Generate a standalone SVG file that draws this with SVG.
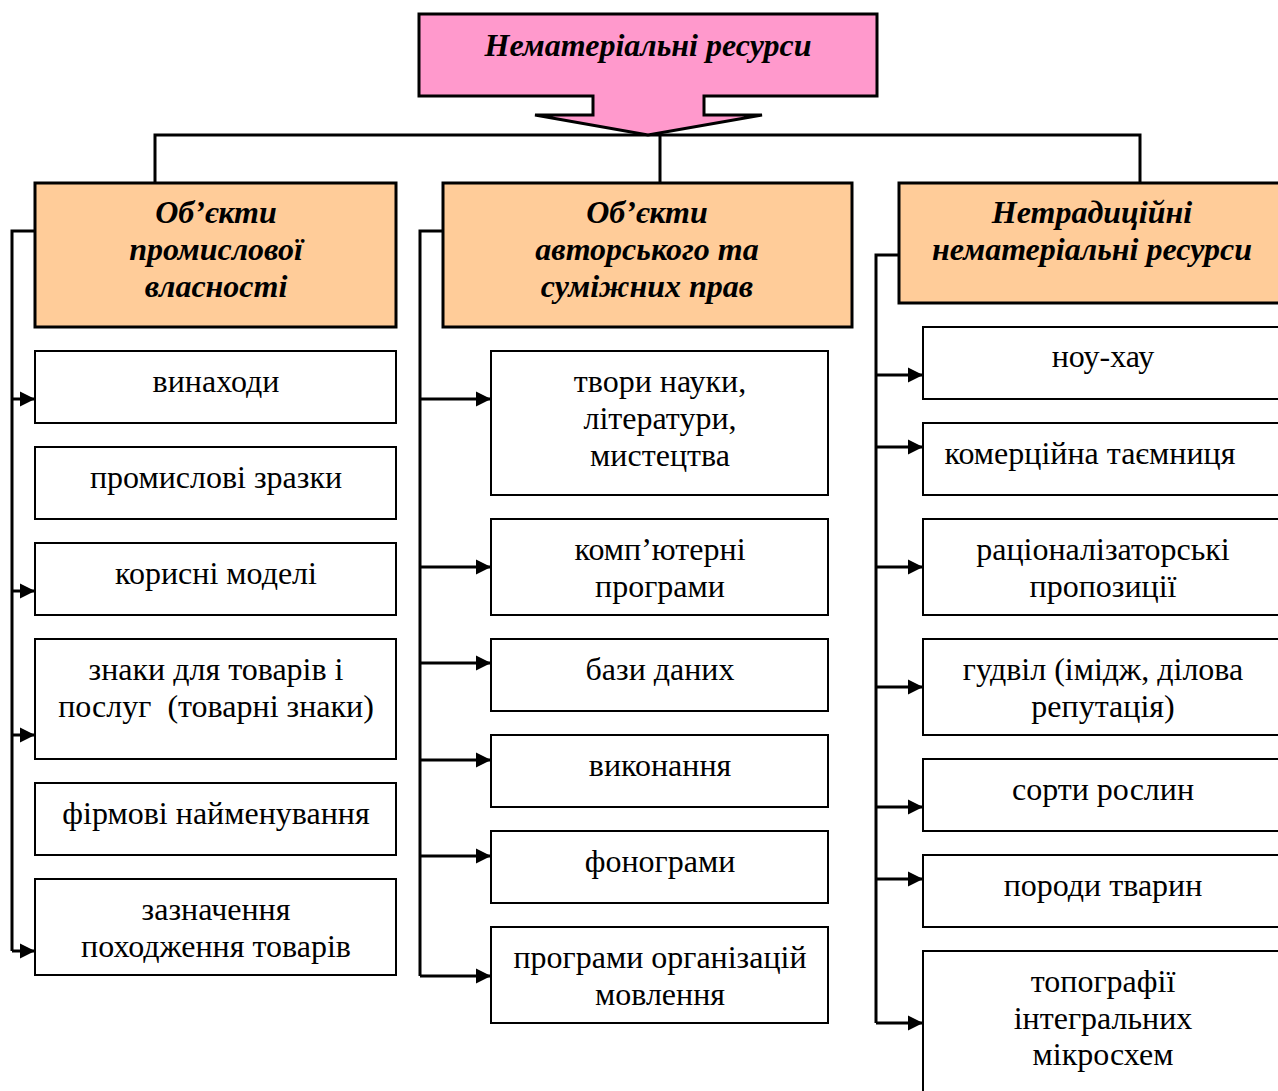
<svg xmlns="http://www.w3.org/2000/svg" width="1278" height="1091" viewBox="0 0 1278 1091">
<defs>
<marker id="ah" markerUnits="userSpaceOnUse" markerWidth="16" markerHeight="16" viewBox="0 0 16 16" refX="15" refY="8" orient="auto">
<path d="M0,0.5 L15,8 L0,15.5 Z" fill="#000"/>
</marker>
<style>
.hd{fill:#FFCC99;stroke:#000;stroke-width:3}
.bx{fill:#fff;stroke:#000;stroke-width:2}
.t{font-family:"Liberation Serif","Times New Roman",serif;font-size:32px;text-anchor:middle;fill:#000}
.h{font-family:"Liberation Serif","Times New Roman",serif;font-size:32px;font-weight:bold;font-style:italic;text-anchor:middle;fill:#000}
.c{fill:none;stroke:#000;stroke-width:3}
.a{fill:none;stroke:#000;stroke-width:3;marker-end:url(#ah)}
</style>
</defs>
<rect width="1278" height="1091" fill="#fff"/>
<g id="connectors">
<path class="c" d="M155,183 V135 H1140 V183 M660,135 V183"/>
<path class="c" d="M35,231 H12 V951"/>
<path class="a" d="M12,399 H35"/>
<path class="a" d="M12,591 H35"/>
<path class="a" d="M12,735 H35"/>
<path class="a" d="M12,951 H35"/>
<path class="c" d="M443,231 H420 V976"/>
<path class="a" d="M420,399 H491"/>
<path class="a" d="M420,567 H491"/>
<path class="a" d="M420,663 H491"/>
<path class="a" d="M420,760 H491"/>
<path class="a" d="M420,856 H491"/>
<path class="a" d="M420,976 H491"/>
<path class="c" d="M899,255 H876 V1023"/>
<path class="a" d="M876,375 H923"/>
<path class="a" d="M876,447 H923"/>
<path class="a" d="M876,567 H923"/>
<path class="a" d="M876,687 H923"/>
<path class="a" d="M876,807 H923"/>
<path class="a" d="M876,879 H923"/>
<path class="a" d="M876,1023 H923"/>
</g>
<g id="root">
<polygon points="419,14 877,14 877,96 704,96 704,115 762,115 648,135 535,115 593,115 593,96 419,96" fill="#FF99CC" stroke="#000" stroke-width="3"/>
<text class="h" x="648" y="56">Нематеріальні ресурси</text>
</g>
<g id="h1"><rect class="hd" x="35" y="183" width="361" height="144"/>
<text class="h" x="216" y="223">Об’єкти</text><text class="h" x="216" y="260">промислової</text><text class="h" x="216" y="297">власності</text></g>
<g id="h2"><rect class="hd" x="443" y="183" width="409" height="144"/>
<text class="h" x="647" y="223">Об’єкти</text><text class="h" x="647" y="260">авторського та</text><text class="h" x="647" y="297">суміжних прав</text></g>
<g id="h3"><rect class="hd" x="899" y="183" width="400" height="120"/>
<text class="h" x="1092" y="223">Нетрадиційні</text><text class="h" x="1092" y="260">нематеріальні ресурси</text></g>

<g id="l1"><rect class="bx" x="35" y="351" width="361" height="72"/><text class="t" x="216" y="392">винаходи</text></g>
<g id="l2"><rect class="bx" x="35" y="447" width="361" height="72"/><text class="t" x="216" y="488">промислові зразки</text></g>
<g id="l3"><rect class="bx" x="35" y="543" width="361" height="72"/><text class="t" x="216" y="584">корисні моделі</text></g>
<g id="l4"><rect class="bx" x="35" y="639" width="361" height="120"/><text class="t" x="216" y="680">знаки для товарів і</text><text class="t" x="216" y="717" xml:space="preserve">послуг  (товарні знаки)</text></g>
<g id="l5"><rect class="bx" x="35" y="783" width="361" height="72"/><text class="t" x="216" y="824">фірмові найменування</text></g>
<g id="l6"><rect class="bx" x="35" y="879" width="361" height="96"/><text class="t" x="216" y="920">зазначення</text><text class="t" x="216" y="957">походження товарів</text></g>

<g id="m1"><rect class="bx" x="491" y="351" width="337" height="144"/><text class="t" x="660" y="392">твори науки,</text><text class="t" x="660" y="429">літератури,</text><text class="t" x="660" y="466">мистецтва</text></g>
<g id="m2"><rect class="bx" x="491" y="519" width="337" height="96"/><text class="t" x="660" y="560">комп’ютерні</text><text class="t" x="660" y="597">програми</text></g>
<g id="m3"><rect class="bx" x="491" y="639" width="337" height="72"/><text class="t" x="660" y="680">бази даних</text></g>
<g id="m4"><rect class="bx" x="491" y="735" width="337" height="72"/><text class="t" x="660" y="776">виконання</text></g>
<g id="m5"><rect class="bx" x="491" y="831" width="337" height="72"/><text class="t" x="660" y="872">фонограми</text></g>
<g id="m6"><rect class="bx" x="491" y="927" width="337" height="96"/><text class="t" x="660" y="968">програми організацій</text><text class="t" x="660" y="1005">мовлення</text></g>

<g id="r1"><rect class="bx" x="923" y="327" width="380" height="72"/><text class="t" x="1103" y="367">ноу-хау</text></g>
<g id="r2"><rect class="bx" x="923" y="423" width="380" height="72"/><text class="t" x="1090" y="464">комерційна таємниця</text></g>
<g id="r3"><rect class="bx" x="923" y="519" width="380" height="96"/><text class="t" x="1103" y="560">раціоналізаторські</text><text class="t" x="1103" y="597">пропозиції</text></g>
<g id="r4"><rect class="bx" x="923" y="639" width="380" height="96"/><text class="t" x="1103" y="680">гудвіл (імідж, ділова</text><text class="t" x="1103" y="717">репутація)</text></g>
<g id="r5"><rect class="bx" x="923" y="759" width="380" height="72"/><text class="t" x="1103" y="800">сорти рослин</text></g>
<g id="r6"><rect class="bx" x="923" y="855" width="380" height="72"/><text class="t" x="1103" y="896">породи тварин</text></g>
<g id="r7"><rect class="bx" x="923" y="951" width="380" height="160"/><text class="t" x="1103" y="992">топографії</text><text class="t" x="1103" y="1029">інтегральних</text><text class="t" x="1103" y="1065">мікросхем</text></g>
</svg>
